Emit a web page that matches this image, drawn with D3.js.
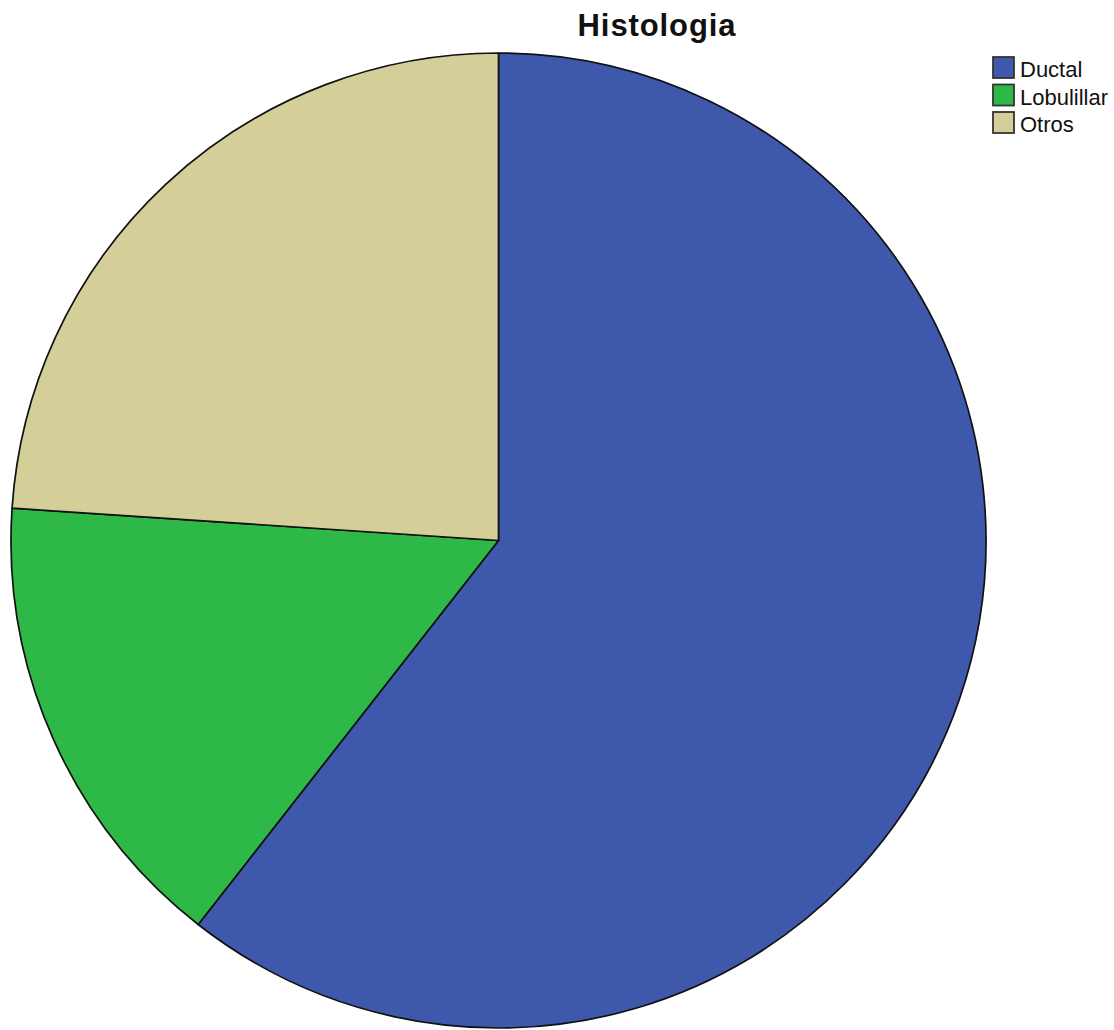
<!DOCTYPE html>
<html>
<head>
<meta charset="utf-8">
<script src="https://cdn.jsdelivr.net/npm/d3@7"></script>
<style>
  html, body { margin: 0; padding: 0; background: #fff; }
  svg { display: block; }
</style>
</head>
<body>
<svg id="chart" width="1114" height="1030"></svg>
<script>
// Histology categories and case counts
const categories = ["Ductal", "Lobulillar", "Otros"];
const counts = [43, 11, 17];
const colors = ["#3E58AC", "#2EB848", "#D4CE99"];
const title = "Histologia";

const svg = d3.select("#chart");
const cx = 498.5, cy = 540.5, r = 487.5;

const data = categories.map((c, i) => ({ name: c, value: counts[i], color: colors[i] }));

const pie = d3.pie().value(d => d.value).sort(null);
const arc = d3.arc().innerRadius(0).outerRadius(r);

const g = svg.append("g").attr("transform", `translate(${cx},${cy})`);
g.selectAll("path")
  .data(pie(data))
  .join("path")
  .attr("d", arc)
  .attr("fill", d => d.data.color)
  .attr("stroke", "#111")
  .attr("stroke-width", 1.7)
  .attr("stroke-linejoin", "round");

svg.append("text")
  .attr("x", 657)
  .attr("y", 36)
  .attr("text-anchor", "middle")
  .attr("font-family", "Liberation Sans, Arial, sans-serif")
  .attr("font-weight", "bold")
  .attr("font-size", 31)
  .attr("letter-spacing", 0.9)
  .attr("fill", "#111")
  .text(title);

const legend = svg.append("g").attr("transform", "translate(993,57)");
const rowH = 27.5;
const item = legend.selectAll("g")
  .data(data)
  .join("g")
  .attr("transform", (d, i) => `translate(0,${i * rowH})`);
item.append("rect")
  .attr("width", 21)
  .attr("height", 21)
  .attr("fill", d => d.color)
  .attr("stroke", "#333")
  .attr("stroke-width", 1.8);
item.append("text")
  .attr("x", 27)
  .attr("y", 20)
  .attr("font-family", "Liberation Sans, Arial, sans-serif")
  .attr("font-size", 22)
  .attr("fill", "#111")
  .text(d => d.name);
</script>
</body>
</html>
